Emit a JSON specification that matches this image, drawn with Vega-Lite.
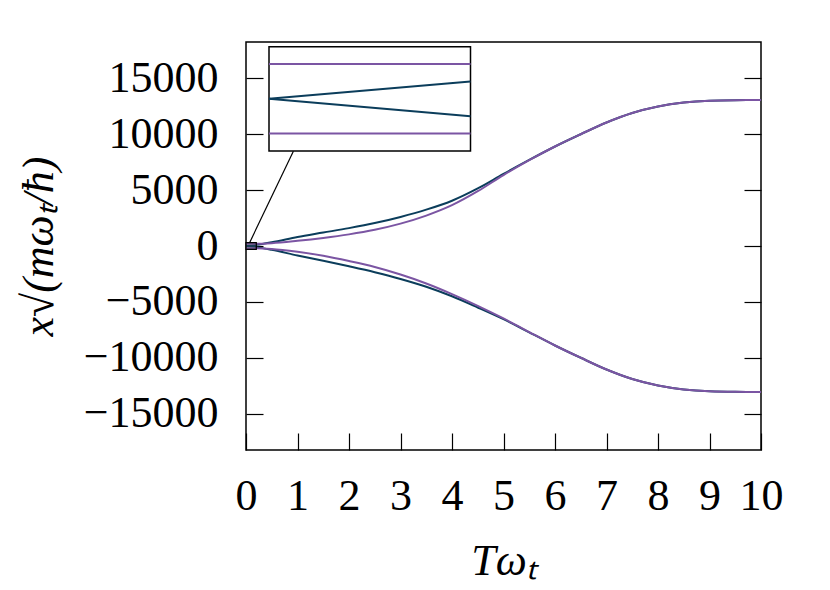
{
  "$schema": "https://vega.github.io/schema/vega-lite/v6.json",
  "autosize": {"type": "none"},
  "padding": {"left": 246, "top": 42, "right": 69, "bottom": 140},
  "width": 515,
  "height": 408,
  "background": "white",
  "config": {
    "view": {"stroke": "black", "strokeWidth": 1.5},
    "axis": {
      "labelFont": "Liberation Serif",
      "labelFontSize": 44,
      "labelColor": "black",
      "labelOverlap": false,
      "labelFlush": false,
      "labelBound": false,
      "tickColor": "black",
      "tickWidth": 1.2,
      "tickSize": 17,
      "domain": false,
      "offset": -17,
      "grid": false,
      "titleFont": "Liberation Serif",
      "titleFontSize": 44,
      "titleFontWeight": "normal",
      "titleFontStyle": "italic",
      "titleColor": "black"
    }
  },
  "datasets": {
    "curves": [
      {"m": "A", "s": "p", "T": 0, "v": 0},
      {"m": "A", "s": "p", "T": 0.2, "v": 100},
      {"m": "A", "s": "p", "T": 0.5, "v": 330},
      {"m": "A", "s": "p", "T": 1, "v": 800},
      {"m": "A", "s": "p", "T": 1.5, "v": 1200},
      {"m": "A", "s": "p", "T": 2, "v": 1600},
      {"m": "A", "s": "p", "T": 2.5, "v": 2050},
      {"m": "A", "s": "p", "T": 3, "v": 2600},
      {"m": "A", "s": "p", "T": 3.5, "v": 3250},
      {"m": "A", "s": "p", "T": 4, "v": 4050},
      {"m": "A", "s": "p", "T": 4.5, "v": 5150},
      {"m": "A", "s": "p", "T": 5, "v": 6450},
      {"m": "A", "s": "p", "T": 5.5, "v": 7700},
      {"m": "A", "s": "p", "T": 6, "v": 8900},
      {"m": "A", "s": "p", "T": 6.5, "v": 10000},
      {"m": "A", "s": "p", "T": 7, "v": 11050},
      {"m": "A", "s": "p", "T": 7.5, "v": 11900},
      {"m": "A", "s": "p", "T": 8, "v": 12480},
      {"m": "A", "s": "p", "T": 8.5, "v": 12830},
      {"m": "A", "s": "p", "T": 9, "v": 13000},
      {"m": "A", "s": "p", "T": 9.5, "v": 13050},
      {"m": "A", "s": "p", "T": 10, "v": 13060},
      {"m": "A", "s": "n", "T": 0, "v": 0},
      {"m": "A", "s": "n", "T": 0.2, "v": -100},
      {"m": "A", "s": "n", "T": 0.5, "v": -340},
      {"m": "A", "s": "n", "T": 1, "v": -850},
      {"m": "A", "s": "n", "T": 1.5, "v": -1320},
      {"m": "A", "s": "n", "T": 2, "v": -1820},
      {"m": "A", "s": "n", "T": 2.5, "v": -2350},
      {"m": "A", "s": "n", "T": 3, "v": -2950},
      {"m": "A", "s": "n", "T": 3.5, "v": -3650},
      {"m": "A", "s": "n", "T": 4, "v": -4500},
      {"m": "A", "s": "n", "T": 4.5, "v": -5500},
      {"m": "A", "s": "n", "T": 5, "v": -6550},
      {"m": "A", "s": "n", "T": 5.5, "v": -7720},
      {"m": "A", "s": "n", "T": 6, "v": -8900},
      {"m": "A", "s": "n", "T": 6.5, "v": -10000},
      {"m": "A", "s": "n", "T": 7, "v": -11050},
      {"m": "A", "s": "n", "T": 7.5, "v": -11900},
      {"m": "A", "s": "n", "T": 8, "v": -12480},
      {"m": "A", "s": "n", "T": 8.5, "v": -12830},
      {"m": "A", "s": "n", "T": 9, "v": -13000},
      {"m": "A", "s": "n", "T": 9.5, "v": -13050},
      {"m": "A", "s": "n", "T": 10, "v": -13060},
      {"m": "B", "s": "p", "T": 0, "v": 200},
      {"m": "B", "s": "p", "T": 0.2, "v": 200},
      {"m": "B", "s": "p", "T": 0.5, "v": 250},
      {"m": "B", "s": "p", "T": 1, "v": 460},
      {"m": "B", "s": "p", "T": 1.5, "v": 720},
      {"m": "B", "s": "p", "T": 2, "v": 1040},
      {"m": "B", "s": "p", "T": 2.5, "v": 1450},
      {"m": "B", "s": "p", "T": 3, "v": 2000},
      {"m": "B", "s": "p", "T": 3.5, "v": 2720},
      {"m": "B", "s": "p", "T": 4, "v": 3650},
      {"m": "B", "s": "p", "T": 4.5, "v": 4900},
      {"m": "B", "s": "p", "T": 5, "v": 6350},
      {"m": "B", "s": "p", "T": 5.5, "v": 7680},
      {"m": "B", "s": "p", "T": 6, "v": 8900},
      {"m": "B", "s": "p", "T": 6.5, "v": 10000},
      {"m": "B", "s": "p", "T": 7, "v": 11050},
      {"m": "B", "s": "p", "T": 7.5, "v": 11900},
      {"m": "B", "s": "p", "T": 8, "v": 12480},
      {"m": "B", "s": "p", "T": 8.5, "v": 12830},
      {"m": "B", "s": "p", "T": 9, "v": 13000},
      {"m": "B", "s": "p", "T": 9.5, "v": 13050},
      {"m": "B", "s": "p", "T": 10, "v": 13060},
      {"m": "B", "s": "n", "T": 0, "v": -200},
      {"m": "B", "s": "n", "T": 0.2, "v": -200},
      {"m": "B", "s": "n", "T": 0.5, "v": -260},
      {"m": "B", "s": "n", "T": 1, "v": -520},
      {"m": "B", "s": "n", "T": 1.5, "v": -880},
      {"m": "B", "s": "n", "T": 2, "v": -1350},
      {"m": "B", "s": "n", "T": 2.5, "v": -1880},
      {"m": "B", "s": "n", "T": 3, "v": -2550},
      {"m": "B", "s": "n", "T": 3.5, "v": -3350},
      {"m": "B", "s": "n", "T": 4, "v": -4300},
      {"m": "B", "s": "n", "T": 4.5, "v": -5350},
      {"m": "B", "s": "n", "T": 5, "v": -6480},
      {"m": "B", "s": "n", "T": 5.5, "v": -7700},
      {"m": "B", "s": "n", "T": 6, "v": -8900},
      {"m": "B", "s": "n", "T": 6.5, "v": -10000},
      {"m": "B", "s": "n", "T": 7, "v": -11050},
      {"m": "B", "s": "n", "T": 7.5, "v": -11900},
      {"m": "B", "s": "n", "T": 8, "v": -12480},
      {"m": "B", "s": "n", "T": 8.5, "v": -12830},
      {"m": "B", "s": "n", "T": 9, "v": -13000},
      {"m": "B", "s": "n", "T": 9.5, "v": -13050},
      {"m": "B", "s": "n", "T": 10, "v": -13060}
    ],
    "zoom": [{"T0": 0, "T1": 0.2, "v0": -300, "v1": 300}],
    "link": [{"T0": 0.07, "v0": 300, "T1": 0.92, "v1": 8480}]
  },
  "layer": [
    {
      "data": {"name": "curves"},
      "transform": [{"filter": "datum.m === 'A'"}],
      "mark": {"type": "line", "color": "#0b3d5b", "strokeWidth": 2, "interpolate": "monotone"},
      "encoding": {
        "x": {
          "field": "T", "type": "quantitative",
          "scale": {"domain": [0, 10], "nice": false, "zero": false},
          "axis": {
            "orient": "bottom",
            "values": [0, 1, 2, 3, 4, 5, 6, 7, 8, 9, 10],
            "format": "d",
            "labelPadding": 24,
            "title": "Tωₜ",
            "titleY": 141,
            "titleBaseline": "alphabetic"
          }
        },
        "y": {
          "field": "v", "type": "quantitative",
          "scale": {"domain": [-18250, 18250], "nice": false, "zero": false},
          "axis": {
            "orient": "left",
            "values": [-15000, -10000, -5000, 0, 5000, 10000, 15000],
            "format": "d",
            "labelPadding": 28,
            "title": "x√(mωₜ/ħ)",
            "titleAngle": -90,
            "titleX": -211,
            "titleY": 204,
            "titleAlign": "center",
            "titleBaseline": "alphabetic"
          }
        },
        "detail": {"field": "s"}
      }
    },
    {
      "data": {"name": "curves"},
      "transform": [{"filter": "datum.m === 'B'"}],
      "mark": {"type": "line", "color": "#7b55a3", "strokeWidth": 2, "interpolate": "monotone"},
      "encoding": {
        "x": {"field": "T", "type": "quantitative", "axis": null,
              "scale": {"domain": [0, 10], "nice": false, "zero": false}},
        "y": {
          "field": "v", "type": "quantitative",
          "scale": {"domain": [-18250, 18250], "nice": false, "zero": false},
          "axis": {
            "orient": "right",
            "values": [-15000, -10000, -5000, 0, 5000, 10000, 15000],
            "labels": false,
            "title": null
          }
        },
        "detail": {"field": "s"}
      }
    },
    {
      "data": {"name": "zoom"},
      "mark": {"type": "rect", "fill": "#444444", "fillOpacity": 0.25, "stroke": "black", "strokeWidth": 1.2},
      "encoding": {
        "x": {"field": "T0", "type": "quantitative", "axis": null,
              "scale": {"domain": [0, 10], "nice": false, "zero": false}},
        "x2": {"field": "T1"},
        "y": {"field": "v0", "type": "quantitative", "axis": null,
              "scale": {"domain": [-18250, 18250], "nice": false, "zero": false}},
        "y2": {"field": "v1"}
      }
    },
    {
      "data": {"name": "link"},
      "mark": {"type": "rule", "color": "black", "strokeWidth": 1.2},
      "encoding": {
        "x": {"field": "T0", "type": "quantitative", "axis": null,
              "scale": {"domain": [0, 10], "nice": false, "zero": false}},
        "x2": {"field": "T1"},
        "y": {"field": "v0", "type": "quantitative", "axis": null,
              "scale": {"domain": [-18250, 18250], "nice": false, "zero": false}},
        "y2": {"field": "v1"}
      }
    },
    {
      "data": {"name": "zoom"},
      "mark": {"type": "rect", "fill": "white", "stroke": "black", "strokeWidth": 1.5},
      "encoding": {
        "x": {"field": "T0", "type": "quantitative", "axis": null,
              "scale": {"domain": [0, 0.2], "range": [23, 224.5], "nice": false, "zero": false}},
        "x2": {"field": "T1"},
        "y": {"field": "v0", "type": "quantitative", "axis": null,
              "scale": {"domain": [-300, 300], "range": [109, 4.7], "nice": false, "zero": false}},
        "y2": {"field": "v1"}
      }
    },
    {
      "data": {"name": "curves"},
      "transform": [{"filter": "datum.m === 'A' && datum.T <= 0.2"}],
      "mark": {"type": "line", "color": "#0b3d5b", "strokeWidth": 2},
      "encoding": {
        "x": {"field": "T", "type": "quantitative", "axis": null,
              "scale": {"domain": [0, 0.2], "range": [23, 224.5], "nice": false, "zero": false}},
        "y": {"field": "v", "type": "quantitative", "axis": null,
              "scale": {"domain": [-300, 300], "range": [109, 4.7], "nice": false, "zero": false}},
        "detail": {"field": "s"}
      }
    },
    {
      "data": {"name": "curves"},
      "transform": [{"filter": "datum.m === 'B' && datum.T <= 0.2"}],
      "mark": {"type": "line", "color": "#7b55a3", "strokeWidth": 2},
      "encoding": {
        "x": {"field": "T", "type": "quantitative", "axis": null,
              "scale": {"domain": [0, 0.2], "range": [23, 224.5], "nice": false, "zero": false}},
        "y": {"field": "v", "type": "quantitative", "axis": null,
              "scale": {"domain": [-300, 300], "range": [109, 4.7], "nice": false, "zero": false}},
        "detail": {"field": "s"}
      }
    }
  ],
  "resolve": {"scale": {"x": "independent", "y": "independent"}}
}
